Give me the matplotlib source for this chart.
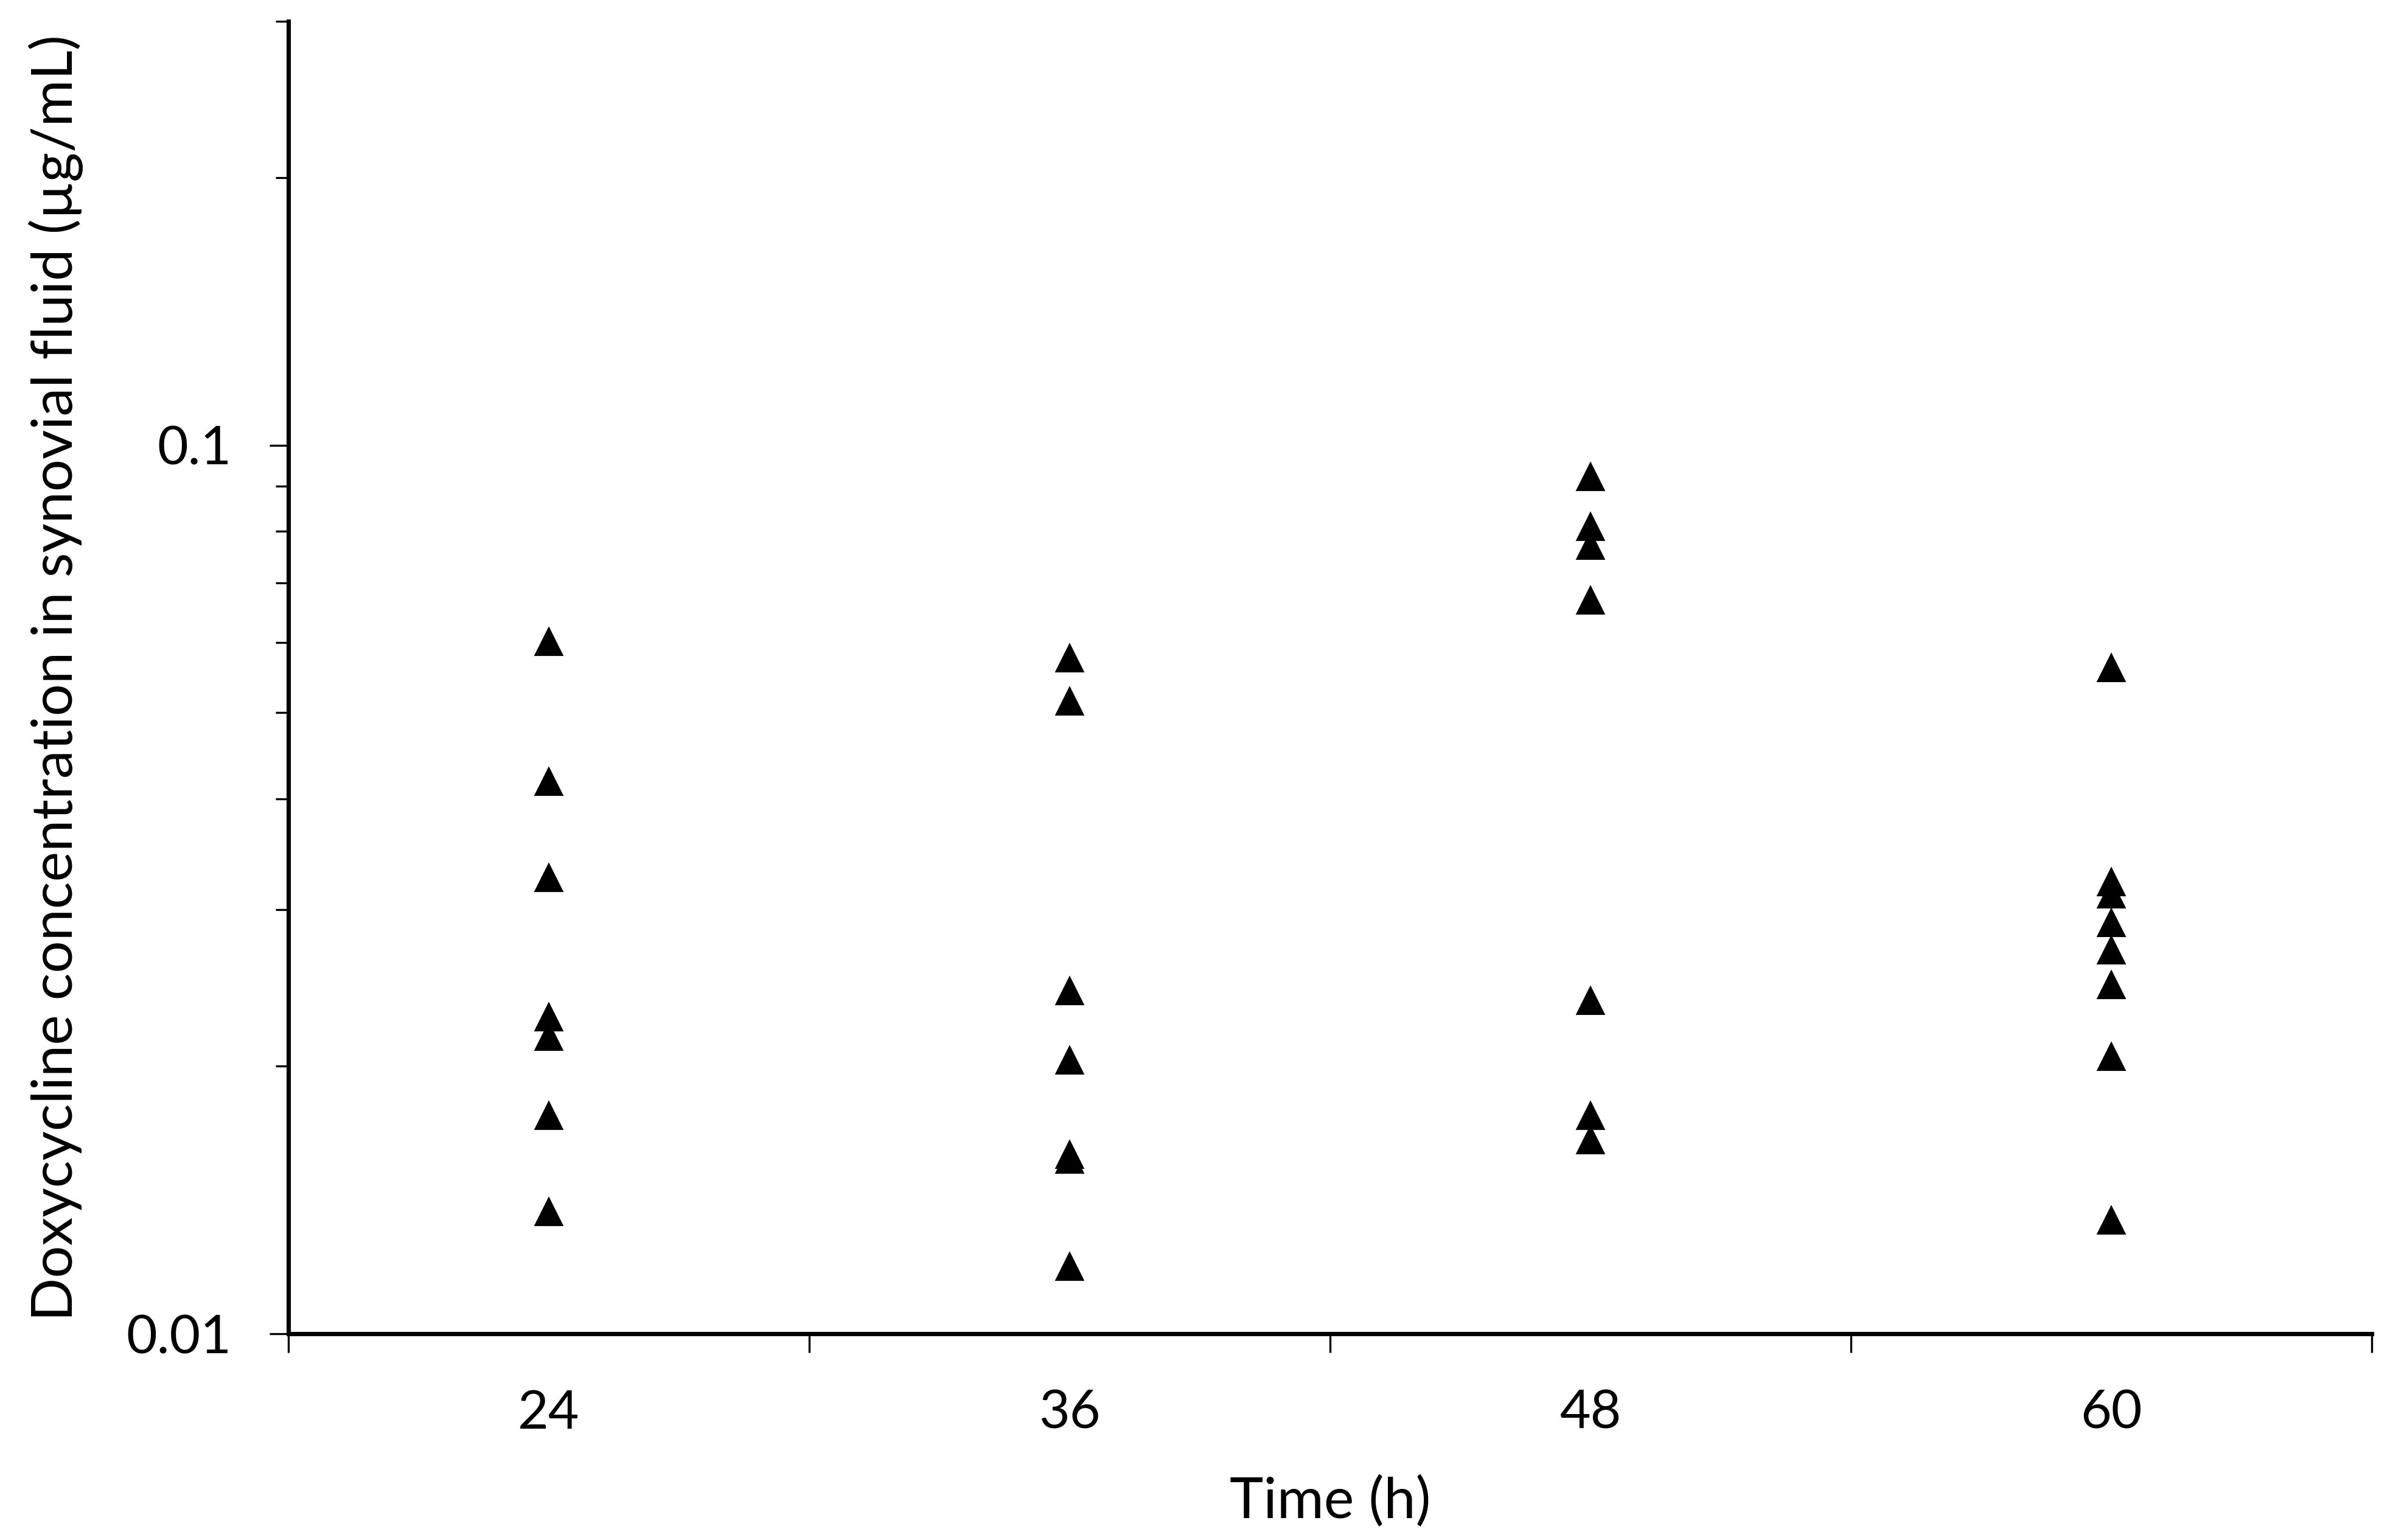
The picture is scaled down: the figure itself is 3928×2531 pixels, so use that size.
"""Doxycycline concentration in synovial fluid by sampling time."""

import matplotlib
matplotlib.use("Agg")
import matplotlib.pyplot as plt
from matplotlib.ticker import FixedLocator, NullFormatter, LogLocator

plt.rcParams["font.family"] = ["Lato", "DejaVu Sans"]

times = ["24", "36", "48", "60"]
conc_24 = [0.0601, 0.0418, 0.0326, 0.0227, 0.0216, 0.0176, 0.0137]
conc_36 = [0.0576, 0.0515, 0.0243, 0.0203, 0.0159, 0.0157, 0.0119]
conc_48 = [0.0921, 0.0809, 0.0770, 0.0669, 0.0237, 0.0176, 0.0165]
conc_60 = [0.0561, 0.0322, 0.0312, 0.0290, 0.0270, 0.0247, 0.0205, 0.0134]
series = [conc_24, conc_36, conc_48, conc_60]

fig = plt.figure(figsize=(3928 / 300, 2531 / 300), dpi=300)
ax = fig.add_axes([0.1207, 0.1339, 0.8717, 0.8523])

for i, vals in enumerate(series):
    ax.plot([i + 0.5] * len(vals), vals, linestyle="none", marker="^",
            markersize=10, color="black", clip_on=False)

ax.set_yscale("log")
ax.set_ylim(0.01, 0.3)
ax.set_xlim(0, len(times))

ax.yaxis.set_major_locator(FixedLocator([0.01, 0.1]))
ax.yaxis.set_major_formatter(matplotlib.ticker.FixedFormatter(["0.01", "0.1"]))
ax.yaxis.set_minor_locator(LogLocator(base=10, subs=range(2, 10)))
ax.yaxis.set_minor_formatter(NullFormatter())

ax.xaxis.set_major_locator(FixedLocator(range(len(times) + 1)))
ax.xaxis.set_major_formatter(NullFormatter())
ax.xaxis.set_minor_locator(FixedLocator([i + 0.5 for i in range(len(times))]))
ax.xaxis.set_minor_formatter(matplotlib.ticker.FixedFormatter(times))

ax.tick_params(axis="y", which="major", direction="out", length=7.5, width=0.8,
               labelsize=21, pad=15)
ax.tick_params(axis="y", which="minor", direction="out", length=5, width=0.8)
ax.tick_params(axis="x", which="major", direction="out", length=7.5, width=0.8)
ax.tick_params(axis="x", which="minor", length=0, labelsize=21, pad=22)

for side in ["top", "right"]:
    ax.spines[side].set_visible(False)
for side in ["left", "bottom"]:
    ax.spines[side].set_linewidth(1.7)

ax.set_xlabel("Time (h)", fontsize=22.5, labelpad=15)
ax.set_ylabel("Doxycycline concentration in synovial fluid (\u00b5g/mL)",
              fontsize=22.5, labelpad=17)

fig.savefig("out.png", dpi=300)
